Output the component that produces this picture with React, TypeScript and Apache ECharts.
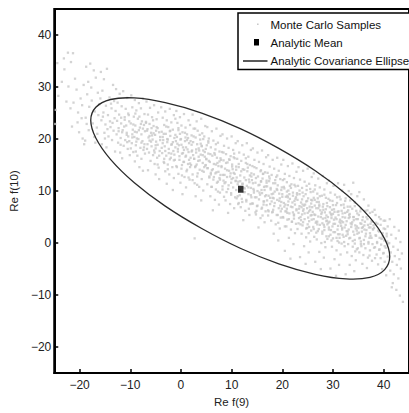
import React, { useEffect, useRef } from "react";
import * as echarts from "echarts";

// Monte Carlo samples [Re f(9), Re f(10)] (whole cloud)
const samples: number[][] = [
  [-24.4,34.6],[-23.1,35.5],[-22.3,36.6],[-24.7,25.6],[-24.2,28.3],[-23.5,31.0],[-22.6,27.2],[-24.8,22.9],[-23.0,33.4],[-22.2,30.1],
  [-21.3,36.5],[-21.7,34.8],[-20.6,29.5],[-21.2,27.0],[-20.3,25.1],[-19.6,24.0],[-21.5,22.4],[-20.1,21.3],[-19.4,20.1],[-19.8,27.8],[-20.9,31.6],[-19.2,30.4],[-21.8,25.9],[-20.4,23.2],[-19.5,26.5],[-19.1,19.0],
  [-18.7,33.9],[-17.9,34.5],[-17.2,33.2],[-18.3,31.0],[-16.8,31.8],[-18.5,28.6],[-17.6,27.4],[-16.4,28.9],[-18.1,26.2],[-17.0,25.3],[-16.3,24.6],[-18.8,24.1],[-17.4,23.0],[-16.6,22.2],[-18.2,21.7],[-17.1,20.4],[-16.9,19.3],[-18.6,22.9],[-16.1,26.7],[-17.7,29.9],[-16.5,21.0],[-18.9,19.7],
  [-15.8,32.9],[-15.2,31.5],[-14.6,33.5],[-13.4,30.4],[-15.5,29.3],[-14.1,28.0],[-13.2,27.3],[-15.9,27.8],[-14.8,26.4],[-13.7,25.9],[-15.3,25.1],[-14.4,24.6],[-13.1,24.0],[-15.7,23.6],[-14.9,22.8],[-13.9,22.3],[-13.3,21.6],[-15.1,21.2],[-14.3,20.5],[-13.6,19.8],[-15.6,19.0],[-14.7,18.4],[-13.0,17.6],[-14.0,23.4],[-15.4,24.3],[-13.8,26.8],[-14.5,21.9],[-13.5,23.1],[-15.0,20.1],
  [-12.8,29.6],[-12.1,28.7],[-11.4,29.2],[-10.6,27.9],[-12.5,27.0],[-11.7,26.3],[-10.9,25.8],[-12.9,25.4],[-12.2,24.7],[-11.1,24.2],[-10.3,24.6],[-12.6,23.5],[-11.8,23.0],[-10.8,22.6],[-10.2,23.4],[-12.3,22.1],[-11.5,21.7],[-10.7,21.2],[-12.7,20.9],[-11.9,20.2],[-11.0,19.8],[-10.4,20.5],[-12.4,19.3],[-11.3,18.7],[-10.5,18.1],[-12.0,17.4],[-11.6,16.3],[-10.1,16.9],[-11.2,22.4],[-12.3,21.5],[-10.6,19.4],[-11.8,24.1],
  [-9.8,28.4],[-9.1,27.5],[-8.3,26.9],[-7.5,27.8],[-9.6,26.1],[-8.8,25.5],[-7.9,25.9],[-7.2,24.8],[-9.3,24.3],[-8.5,23.9],[-7.7,23.4],[-9.9,23.0],[-9.0,22.6],[-8.1,22.2],[-7.3,22.7],[-9.5,21.8],[-8.7,21.3],[-7.8,20.9],[-7.1,21.5],[-9.2,20.4],[-8.4,20.0],[-7.6,19.6],[-9.7,19.2],[-8.9,18.8],[-8.0,18.3],[-7.4,17.9],[-9.4,17.5],[-8.6,16.8],[-7.8,16.2],[-9.1,15.7],[-8.2,14.6],[-7.5,13.9],[-9.6,20.9],[-8.3,21.7],[-7.9,22.9],[-8.8,19.5],[-7.2,19.0],[-9.0,24.9],
  [-6.8,27.2],[-6.1,26.0],[-5.3,26.5],[-4.5,25.1],[-6.5,24.7],[-5.7,24.2],[-4.8,23.8],[-6.9,23.3],[-6.2,22.9],[-5.4,22.5],[-4.6,22.1],[-6.7,21.6],[-5.9,21.2],[-5.1,20.8],[-4.3,21.3],[-6.4,20.3],[-5.6,19.9],[-4.9,19.5],[-4.1,19.8],[-6.6,19.0],[-5.8,18.6],[-5.0,18.2],[-4.2,17.7],[-6.3,17.4],[-5.5,16.9],[-4.7,16.4],[-6.0,15.8],[-5.2,15.2],[-4.4,14.5],[-6.5,14.0],[-5.0,13.2],[-4.3,12.3],[-5.8,22.1],[-4.9,21.6],[-6.2,20.6],[-5.3,17.8],[-4.6,18.9],[-6.7,18.1],[-5.5,23.6],
  [-3.9,26.1],[-3.1,25.3],[-2.2,25.8],[-1.4,24.6],[-3.6,24.1],[-2.8,23.6],[-1.9,23.2],[-1.1,23.9],[-3.3,22.7],[-2.5,22.3],[-1.6,21.8],[-3.8,21.4],[-3.0,21.0],[-2.1,20.6],[-1.3,20.2],[-3.5,19.8],[-2.7,19.4],[-1.8,19.0],[-1.0,19.6],[-3.2,18.6],[-2.4,18.1],[-1.5,17.7],[-3.7,17.3],[-2.9,16.8],[-2.0,16.4],[-1.2,16.0],[-3.4,15.6],[-2.6,15.1],[-1.7,14.6],[-3.1,13.8],[-2.3,13.2],[-1.4,12.5],[-2.8,11.4],[-1.6,10.2],[-3.6,20.4],[-2.2,21.5],[-1.9,17.2],[-2.6,19.9],[-1.1,18.4],[-3.3,16.2],
  [-0.9,25.4],[-0.2,24.2],[0.6,24.8],[1.5,23.6],[-0.7,23.1],[0.1,22.6],[0.9,22.2],[1.8,22.7],[-0.5,21.7],[0.3,21.3],[1.2,20.9],[-0.8,20.4],[0.0,20.0],[0.8,19.6],[1.6,19.2],[-0.4,18.8],[0.4,18.4],[1.3,18.0],[-0.6,17.6],[0.2,17.2],[1.0,16.8],[1.9,16.4],[-0.3,16.0],[0.5,15.6],[1.4,15.2],[-0.9,14.8],[0.1,14.3],[1.1,13.8],[-0.5,13.3],[0.7,12.7],[1.7,12.2],[-0.1,11.6],[1.0,10.7],[0.3,9.4],[-0.7,19.1],[0.9,20.3],[1.5,17.5],[0.2,15.0],[-0.2,21.0],[1.8,14.6],[0.6,17.9],[1.2,19.8],
  [2.3,24.7],[3.1,23.4],[4.0,23.9],[4.8,22.5],[2.5,22.0],[3.3,21.6],[4.2,21.1],[2.1,20.7],[2.9,20.3],[3.8,19.9],[4.6,20.5],[2.4,19.4],[3.2,19.0],[4.1,18.6],[4.9,18.1],[2.2,17.8],[3.0,17.4],[3.9,17.0],[4.7,16.6],[2.6,16.2],[3.4,15.8],[4.3,15.4],[2.0,15.0],[2.8,14.6],[3.7,14.1],[4.5,13.7],[2.3,13.2],[3.2,12.8],[4.1,12.3],[2.7,11.5],[3.6,10.8],[4.4,10.1],[2.9,9.0],[4.0,8.2],[2.7,0.9],[3.5,18.2],[2.4,16.9],[4.4,17.8],[3.1,15.1],[4.8,14.9],[2.1,18.9],[3.7,20.8],
  [5.2,22.3],[6.1,21.5],[7.0,22.0],[7.8,20.6],[5.5,20.1],[6.4,19.7],[7.3,19.3],[5.1,18.8],[5.9,18.4],[6.8,18.0],[7.6,17.6],[5.4,17.2],[6.2,16.8],[7.1,16.4],[7.9,16.0],[5.7,15.6],[6.5,15.2],[7.4,14.8],[5.3,14.4],[6.1,14.0],[7.0,13.6],[7.8,13.1],[5.6,12.6],[6.4,12.2],[7.3,11.8],[5.2,11.3],[6.0,10.8],[6.9,10.3],[7.7,9.7],[5.8,9.0],[6.7,8.3],[7.5,7.4],[6.3,6.3],[5.0,16.1],[6.6,17.3],[7.2,15.4],[5.9,13.2],[7.6,12.5],[6.9,19.0],[5.4,19.6],
  [8.2,20.9],[9.1,20.1],[10.0,20.5],[10.8,19.2],[8.5,18.7],[9.4,18.3],[10.3,17.9],[8.1,17.5],[8.9,17.1],[9.8,16.7],[10.6,16.3],[8.4,15.9],[9.2,15.5],[10.1,15.1],[10.9,14.7],[8.7,14.3],[9.5,13.9],[10.4,13.5],[8.3,13.1],[9.1,12.7],[10.0,12.3],[10.8,11.9],[8.6,11.5],[9.4,11.1],[10.3,10.7],[8.2,10.3],[9.0,9.8],[9.9,9.3],[10.7,8.8],[8.8,8.2],[9.7,7.5],[10.5,6.7],[9.3,5.8],[8.4,12.0],[10.2,14.2],[9.6,16.0],[10.9,10.2],[8.0,14.8],[9.9,11.6],[10.5,17.2],
  [11.2,19.6],[12.1,18.8],[13.0,19.2],[13.8,17.9],[11.5,17.4],[12.4,17.0],[13.3,16.6],[11.1,16.2],[11.9,15.8],[12.8,15.4],[13.6,15.0],[11.4,14.6],[12.2,14.2],[13.1,13.8],[13.9,13.4],[11.7,13.0],[12.5,12.6],[13.4,12.2],[11.3,11.8],[12.1,11.4],[13.0,11.0],[13.8,10.6],[11.6,10.2],[12.4,9.8],[13.3,9.4],[11.2,9.0],[12.0,8.5],[12.9,8.0],[13.7,7.5],[11.8,6.9],[12.7,6.2],[13.5,5.4],[12.3,4.4],[11.0,12.6],[13.2,14.5],[12.6,10.5],[13.9,8.8],[11.4,7.7],[12.8,16.3],[13.5,11.7],
  [14.2,18.2],[15.1,17.4],[16.0,17.8],[16.8,16.5],[14.5,16.0],[15.4,15.6],[16.3,15.2],[14.1,14.8],[14.9,14.4],[15.8,14.0],[16.6,13.6],[14.4,13.2],[15.2,12.8],[16.1,12.4],[16.9,12.0],[14.7,11.6],[15.5,11.2],[16.4,10.8],[14.3,10.4],[15.1,10.0],[16.0,9.6],[16.8,9.2],[14.6,8.8],[15.4,8.4],[16.3,8.0],[14.2,7.6],[15.0,7.1],[15.9,6.6],[16.7,6.1],[14.8,5.5],[15.7,4.8],[16.5,4.0],[15.3,3.0],[14.0,12.1],[16.2,13.3],[15.6,9.3],[16.9,7.3],[14.4,9.7],[15.8,11.9],[16.5,10.2],[14.9,6.2],[16.1,5.3],
  [17.2,16.9],[18.1,16.0],[19.0,16.4],[19.8,15.1],[17.5,14.7],[18.4,14.3],[19.3,13.9],[17.1,13.5],[17.9,13.1],[18.8,12.7],[19.6,12.3],[17.4,11.9],[18.2,11.5],[19.1,11.1],[19.9,10.7],[17.7,10.3],[18.5,9.9],[19.4,9.5],[17.3,9.1],[18.1,8.7],[19.0,8.3],[19.8,7.9],[17.6,7.5],[18.4,7.1],[19.3,6.7],[17.2,6.3],[18.0,5.9],[18.9,5.4],[19.7,4.9],[17.8,4.3],[18.7,3.6],[19.5,2.8],[18.3,1.8],[19.2,0.5],[17.0,10.9],[18.6,12.1],[19.5,8.6],[17.9,8.0],[19.0,10.2],[18.2,6.4],[19.7,6.1],[17.4,12.8],
  [20.2,16.0],[21.1,14.8],[22.0,15.3],[22.8,13.7],[20.5,13.3],[21.4,12.9],[22.3,12.5],[20.1,12.1],[20.9,11.7],[21.8,11.3],[22.6,10.9],[20.4,10.5],[21.2,10.1],[22.1,9.7],[22.9,9.3],[20.7,8.9],[21.5,8.5],[22.4,8.1],[20.3,7.7],[21.1,7.3],[22.0,6.9],[22.8,6.5],[20.6,6.1],[21.4,5.7],[22.3,5.3],[20.2,4.9],[21.0,4.5],[21.9,4.1],[22.7,3.7],[20.8,3.2],[21.7,2.6],[22.5,1.9],[21.3,1.0],[22.2,-0.2],[20.5,-1.5],[21.6,-3.0],[20.0,9.4],[21.7,10.6],[22.5,7.4],[20.9,6.6],[22.1,5.9],[21.2,8.0],[20.4,7.0],[22.7,8.8],[21.0,9.1],[22.3,4.7],
  [23.2,14.6],[24.1,13.9],[25.0,14.3],[25.8,12.7],[23.5,12.2],[24.4,11.8],[25.3,11.4],[23.1,11.0],[23.9,10.6],[24.8,10.2],[25.6,9.8],[23.4,9.4],[24.2,9.0],[25.1,8.6],[25.9,8.2],[23.7,7.8],[24.5,7.4],[25.4,7.0],[23.3,6.6],[24.1,6.2],[25.0,5.8],[25.8,5.4],[23.6,5.0],[24.4,4.6],[25.3,4.2],[23.2,3.8],[24.0,3.4],[24.9,2.9],[25.7,2.4],[23.8,1.8],[24.7,1.1],[25.5,0.3],[24.3,-0.6],[25.2,-1.8],[23.5,-2.7],[24.6,-4.0],[23.0,8.3],[24.7,8.0],[25.5,6.4],[23.9,5.5],[25.1,4.9],[24.3,7.2],[23.4,7.1],[25.7,7.6],[24.0,9.7],[25.3,3.1],[23.7,4.4],[24.9,6.7],
  [26.2,13.4],[27.1,12.4],[28.0,12.9],[28.8,11.5],[26.5,11.1],[27.4,10.7],[28.3,10.3],[26.1,9.9],[26.9,9.5],[27.8,9.1],[28.6,8.7],[26.4,8.3],[27.2,7.9],[28.1,7.5],[28.9,7.1],[26.7,6.7],[27.5,6.3],[28.4,5.9],[26.3,5.5],[27.1,5.1],[28.0,4.7],[28.8,4.3],[26.6,3.9],[27.4,3.5],[28.3,3.1],[26.2,2.7],[27.0,2.3],[27.9,1.8],[28.7,1.3],[26.8,0.7],[27.7,0.0],[28.5,-0.8],[27.3,-1.7],[28.2,-2.8],[26.5,-3.6],[27.6,-5.0],[26.0,6.0],[27.7,5.6],[28.5,4.8],[26.9,4.1],[28.1,6.4],[27.3,7.1],[26.4,7.2],[28.7,5.3],[27.0,8.6],[28.3,2.5],[26.7,2.0],[27.9,3.8],[26.2,4.6],[28.9,3.6],
  [29.2,12.0],[30.1,11.0],[31.0,11.5],[31.8,10.1],[29.5,9.7],[30.4,9.3],[31.3,8.9],[29.1,8.5],[29.9,8.1],[30.8,7.7],[31.6,7.3],[29.4,6.9],[30.2,6.5],[31.1,6.1],[31.9,5.7],[29.7,5.3],[30.5,4.9],[31.4,4.5],[29.3,4.1],[30.1,3.7],[31.0,3.3],[31.8,2.9],[29.6,2.5],[30.4,2.1],[31.3,1.7],[29.2,1.3],[30.0,0.9],[30.9,0.4],[31.7,-0.1],[29.8,-0.7],[30.7,-1.4],[31.5,-2.2],[30.3,-3.1],[31.2,-4.2],[29.5,-4.9],[30.6,-6.3],[29.0,5.0],[30.7,4.6],[31.5,3.8],[29.9,3.2],[31.1,5.4],[30.3,6.0],[29.4,5.9],[31.7,4.2],[30.0,7.3],[31.3,1.0],[29.7,0.5],[30.9,2.6],[29.2,3.0],[31.9,1.6],
  [32.2,11.2],[33.1,10.0],[34.0,11.6],[34.8,9.0],[32.5,8.6],[33.4,8.2],[34.3,7.8],[32.1,7.4],[32.9,7.0],[33.8,6.6],[34.6,6.2],[32.4,5.8],[33.2,5.4],[34.1,5.0],[34.9,4.6],[32.7,4.2],[33.5,3.8],[34.4,3.4],[32.3,3.0],[33.1,2.6],[34.0,2.2],[34.8,1.8],[32.6,1.4],[33.4,1.0],[34.3,0.6],[32.2,0.2],[33.0,-0.2],[33.9,-0.7],[34.7,-1.2],[32.8,-1.8],[33.7,-2.5],[34.5,-3.3],[33.3,-4.2],[34.2,-5.4],[32.5,-6.0],[33.6,9.4],[32.0,4.0],[33.7,3.6],[34.5,2.8],[32.9,2.2],[34.1,4.4],[33.3,5.0],[32.4,4.9],[34.7,3.2],[33.0,6.3],[34.3,-0.1],
  [35.2,9.8],[36.1,8.4],[37.0,7.2],[37.8,6.0],[35.5,6.6],[36.4,6.2],[37.3,5.8],[35.1,5.4],[35.9,5.0],[36.8,4.6],[37.6,4.2],[35.4,3.8],[36.2,3.4],[37.1,3.0],[37.9,2.6],[35.7,2.2],[36.5,1.8],[37.4,1.4],[35.3,1.0],[36.1,0.6],[37.0,0.2],[37.8,-0.2],[35.6,-0.6],[36.4,-1.0],[37.3,-1.4],[35.2,-1.8],[36.0,-2.3],[36.9,-2.8],[37.7,-3.4],[35.8,-4.0],[36.7,-4.8],[35.0,2.9],[36.6,2.5],[37.4,3.7],[35.9,3.1],[37.2,1.0],[36.3,4.1],[35.5,0.3],
  [38.2,6.4],[39.1,5.0],[40.0,4.3],[40.8,3.2],[38.5,3.9],[39.4,3.5],[40.3,2.7],[38.1,2.9],[38.9,2.4],[39.8,1.9],[40.6,1.3],[38.4,1.5],[39.2,1.0],[40.1,0.5],[40.9,-0.1],[38.7,0.2],[39.5,-0.3],[40.4,-0.9],[38.3,-0.8],[39.1,-1.3],[40.0,-1.9],[40.8,-2.6],[38.6,-2.2],[39.4,-2.9],[40.2,-3.6],[38.9,-4.1],[39.7,-5.0],[40.5,-6.2],[38.0,3.4],[39.6,0.8],
  [41.2,4.6],[42.1,3.1],[43.0,2.4],[41.5,1.6],[42.4,0.9],[43.3,0.2],[41.1,0.0],[41.9,-0.7],[42.8,-1.3],[43.6,-2.0],[41.4,-1.8],[42.2,-2.5],[43.1,-3.1],[41.7,-3.6],[42.6,-4.2],[43.4,-4.9],[41.3,-5.3],[42.0,-6.0],[42.9,-6.8],[41.8,-7.7],[42.5,-9.0],[43.2,-10.1],[43.8,-11.3],[41.6,-8.5],
];

const samplesCore: number[][] = [
  [-11.6,21.3],[-10.2,19.6],[-9.4,22.8],[-8.7,20.1],[-7.3,18.4],[-6.6,21.9],[-11.1,23.7],[-9.9,18.2],[-8.2,24.3],[-7.8,19.3],[-10.7,20.8],[-6.9,23.1],[-9.1,21.4],[-11.9,18.9],[-7.5,22.0],[-8.9,17.6],[-10.4,24.9],[-6.2,19.7],[-9.6,20.3],[-7.1,17.2],
  [-5.7,20.7],[-4.3,16.8],[-3.6,19.2],[-2.1,21.6],[-1.4,15.9],[-0.6,18.1],[-5.2,17.4],[-4.8,22.3],[-3.1,17.7],[-2.7,20.0],[-1.9,18.9],[-0.3,16.7],[-5.9,19.5],[-4.1,20.4],[-3.3,15.4],[-2.4,17.3],[-1.1,20.8],[-0.8,14.6],[-5.4,21.1],[-3.8,18.3],[-2.9,22.4],[-1.6,19.4],[-0.1,19.9],[-4.6,15.1],[-2.2,16.1],[-3.4,21.0],[-0.5,22.1],[-1.3,17.0],[-5.0,18.8],[-2.6,14.2],
  [0.4,17.3],[1.2,14.1],[1.9,19.6],[2.6,16.2],[3.3,13.4],[4.1,18.7],[4.9,15.0],[5.6,12.8],[0.8,21.2],[1.6,16.0],[2.3,12.1],[3.0,18.0],[3.7,15.9],[4.4,20.0],[5.2,14.4],[5.8,17.1],[0.2,13.0],[1.0,18.4],[1.8,15.3],[2.5,20.5],[3.5,16.6],[4.2,13.9],[4.7,17.5],[5.4,19.3],[0.6,15.6],[1.4,20.2],[2.1,17.6],[2.9,14.8],[3.9,19.1],[5.0,16.2],[5.9,13.5],[0.1,18.9],[1.5,12.6],[2.8,22.0],[3.2,11.2],[4.6,14.6],[5.5,15.8],[0.9,16.6],[3.6,17.8],[4.3,16.9],
  [6.3,14.2],[7.1,11.6],[7.8,16.3],[8.6,13.1],[9.3,10.4],[10.1,14.7],[10.8,12.0],[11.6,9.2],[6.7,17.0],[7.4,13.7],[8.2,10.9],[8.9,15.4],[9.7,12.8],[10.4,16.5],[11.2,11.3],[11.9,13.8],[6.1,10.8],[6.9,15.1],[7.7,12.2],[8.4,17.4],[9.1,14.0],[9.9,9.6],[10.6,13.3],[11.4,15.2],[6.5,12.7],[7.3,9.9],[8.0,14.6],[8.8,11.7],[9.5,16.1],[10.3,12.5],[11.0,8.6],[11.7,11.9],[6.8,13.4],[8.5,8.9],[9.8,13.4],[7.6,15.7],[10.9,14.1],[11.3,7.5],
  [12.2,11.4],[12.9,8.3],[13.6,13.0],[14.4,10.1],[15.1,7.2],[15.8,11.8],[16.6,9.0],[17.3,6.1],[12.5,14.1],[13.3,10.7],[14.0,7.6],[14.8,12.5],[15.5,9.7],[16.2,13.3],[17.0,8.2],[17.7,10.6],[12.1,7.9],[12.8,12.1],[13.8,9.2],[14.5,14.6],[15.3,11.1],[16.0,6.8],[16.7,10.9],[17.5,12.4],[12.6,9.8],[13.4,6.6],[14.2,11.5],[14.9,8.8],[15.7,13.8],[16.4,8.0],[17.2,5.3],[17.9,9.4],[13.1,15.2],[14.7,5.9],[16.9,11.6],[15.9,10.2],[12.4,10.6],[13.9,12.8],[16.3,7.4],[17.6,8.7],
  [18.3,8.6],[19.1,5.4],[19.8,10.2],[20.6,7.4],[21.3,4.6],[22.1,9.1],[22.8,6.3],[23.6,3.6],[18.6,11.5],[19.4,8.1],[20.1,5.0],[20.9,9.9],[21.7,7.0],[22.4,11.2],[23.2,5.8],[23.9,8.4],[18.1,6.0],[18.9,10.4],[19.6,7.2],[20.4,12.3],[21.1,8.8],[21.9,4.1],[22.6,8.5],[23.4,10.1],[18.5,7.7],[19.2,3.9],[20.0,8.9],[20.8,6.1],[21.5,11.0],[22.3,5.5],[23.0,2.7],[23.8,6.9],[19.0,13.0],[20.5,3.2],[22.0,7.8],[21.0,5.8],[19.9,6.6],[22.9,9.6],[18.2,9.5],[23.3,4.8],[21.4,9.4],[20.3,10.8],
  [24.2,6.5],[25.0,3.6],[25.7,8.3],[26.5,5.4],[27.2,2.7],[28.0,7.0],[28.7,4.2],[29.5,1.6],[24.6,9.4],[25.3,6.1],[26.1,3.1],[26.8,7.9],[27.6,5.0],[28.3,9.3],[29.1,3.9],[29.8,6.4],[24.1,4.0],[24.9,8.1],[25.6,5.3],[26.4,10.3],[27.1,6.7],[27.9,2.2],[28.6,6.5],[29.4,8.2],[24.4,5.7],[25.2,1.9],[25.9,6.9],[26.7,4.1],[27.4,9.0],[28.2,3.5],[28.9,0.8],[29.7,4.8],[24.8,11.0],[26.3,1.2],[27.8,5.9],[26.9,3.6],[25.8,4.5],[28.8,7.7],[24.0,7.4],[29.2,2.6],[27.3,7.4],[26.2,8.7],[25.5,10.4],[28.4,0.2],[24.7,2.8],[29.6,5.6],
  [30.2,4.5],[31.0,1.7],[31.7,6.2],[32.5,3.5],[33.2,0.9],[34.0,5.0],[34.7,2.4],[35.5,-0.2],[30.6,7.3],[31.3,4.1],[32.1,1.2],[32.8,6.0],[33.6,3.1],[34.3,7.1],[35.1,2.0],[35.8,4.4],[30.1,2.1],[30.9,6.0],[31.6,3.3],[32.4,8.1],[33.1,4.8],[33.9,0.4],[34.6,4.6],[35.4,6.1],[30.4,3.7],[31.2,0.1],[31.9,5.0],[32.7,2.3],[33.4,7.0],[34.2,1.6],[34.9,-1.0],[35.7,2.9],[30.8,8.8],[32.3,-0.6],[33.8,4.0],[32.9,1.7],[31.8,2.6],[34.8,5.7],[30.0,5.6],[35.2,0.9],[33.3,5.6],[32.2,6.8],[31.5,8.4],[34.4,-1.6],[30.7,1.0],[35.6,3.7],
  [36.2,2.6],[37.0,-0.1],[37.7,4.1],[38.5,1.4],[39.2,-1.2],[40.0,2.8],[40.7,0.3],[36.6,5.0],[37.3,1.9],[38.1,-0.9],[38.8,3.7],[39.6,0.9],[40.3,4.3],[36.1,-0.2],[36.9,3.5],[37.6,1.0],[38.4,5.4],[39.1,2.2],[39.9,-2.0],[40.6,1.8],[36.4,1.3],[37.2,-2.4],[37.9,2.7],[38.7,0.0],[39.4,4.6],[40.2,-0.6],[36.8,6.3],[38.3,-2.9],[39.8,1.4],[37.4,3.0],
];

// Analytic mean
const meanPoint: number[] = [11.8, 10.35];

// Covariance ellipse outline, points read around the curve
const ellipseX: number[] = [41.2, 40.2, 37.3, 32.6, 26.5, 19.3, 11.7, 4.1, -3.1, -9.2, -13.9, -16.8, -17.8, -16.8, -13.9, -9.2, -3.1, 4.1, 11.7, 19.3, 26.5, 32.6, 37.3, 40.2];
const ellipseY: number[] = [-2.6, -5.1, -6.6, -6.9, -6.0, -4.0, -1.0, 2.8, 7.1, 11.6, 16.1, 20.2, 23.6, 26.1, 27.6, 27.9, 27.0, 25.0, 22.0, 18.2, 13.9, 9.4, 4.9, 0.8];

const legendLabels: string[] = ["Monte Carlo Samples", "Analytic Mean", "Analytic Covariance Ellipse"];

const FONT = "'Liberation Sans', Arial, Helvetica, sans-serif";
const DOT = "#c8c8c8";

const fmt = (v: number) => (v % 10 === 0 ? String(v).replace("-", "\u2212") : "");

export default function App() {
  const ref = useRef<HTMLDivElement>(null);
  useEffect(() => {
    if (!ref.current) return;
    const chart = echarts.init(ref.current, null, { renderer: "svg" });
    const axisCommon = {
      type: "value",
      min: -25,
      max: 45,
      minInterval: 10,
      maxInterval: 10,
      axisLine: { show: true, onZero: false, lineStyle: { color: "#000", width: 2 } },
      axisTick: { show: true, inside: true, length: 4, lineStyle: { color: "#000", width: 1.5 } },
      splitLine: { show: false },
      nameLocation: "middle",
      nameTextStyle: { color: "#222", fontSize: 11.5, fontFamily: FONT },
    };
    chart.setOption({
      animation: false,
      backgroundColor: "#fff",
      grid: { left: 49, top: 9, width: 367.5, height: 365, show: true, borderColor: "#000", borderWidth: 2, backgroundColor: "transparent" },
      xAxis: {
        ...axisCommon,
        name: "Re f(9)",
        nameGap: 21,
        axisLabel: { margin: 6, color: "#222", fontSize: 12, fontFamily: FONT, showMinLabel: false, showMaxLabel: false, formatter: fmt },
      },
      yAxis: {
        ...axisCommon,
        name: "Re f(10)",
        nameGap: 20,
        axisLabel: { margin: 3, color: "#222", fontSize: 12, fontFamily: FONT, showMinLabel: false, showMaxLabel: false, formatter: fmt },
      },
      series: [
        {
          name: legendLabels[0],
          type: "scatter",
          data: samples.concat(samplesCore),
          symbol: "rect",
          symbolSize: 2.3,
          itemStyle: { color: DOT },
          emphasis: { disabled: true },
          z: 1,
        },
        {
          name: legendLabels[2],
          type: "custom",
          data: [meanPoint],
          z: 3,
          silent: true,
          renderItem: (_params: any, api: any) => {
            const pts = ellipseX.map((x, i) => api.coord([x, ellipseY[i]]));
            return {
              type: "polygon",
              shape: { points: pts, smooth: 0.35 },
              style: { fill: "none", stroke: "#2a2a2a", lineWidth: 1.3 },
            };
          },
        },
        {
          name: legendLabels[1],
          type: "scatter",
          data: [meanPoint],
          symbol: "rect",
          symbolSize: [5.5, 7],
          itemStyle: { color: "#000" },
          emphasis: { disabled: true },
          z: 4,
        },
      ],
      graphic: [
        {
          type: "rect",
          z: 100,
          shape: { x: 238, y: 13, width: 200, height: 56.5 },
          style: { fill: "#fff", stroke: "#000", lineWidth: 1.5 },
        },
        { type: "rect", z: 101, shape: { x: 257, y: 23.5, width: 1.6, height: 1.6 }, style: { fill: DOT } },
        { type: "rect", z: 101, shape: { x: 254, y: 39, width: 5, height: 6.5 }, style: { fill: "#000" } },
        { type: "line", z: 101, shape: { x1: 243, y1: 61, x2: 267.5, y2: 61 }, style: { stroke: "#000", lineWidth: 1.3 } },
        ...legendLabels.map((t, i) => ({
          type: "text",
          z: 101,
          x: 270.5,
          y: [24.5, 42.5, 61][i],
          style: { text: t, fill: "#111", fontSize: 11.5, fontFamily: FONT, verticalAlign: "middle" },
        })),
      ],
    });
    return () => chart.dispose();
  }, []);
  return <div ref={ref} style={{ position: "fixed", left: 0, top: 0, width: 409, height: 413, background: "#fff" }} />;
}
